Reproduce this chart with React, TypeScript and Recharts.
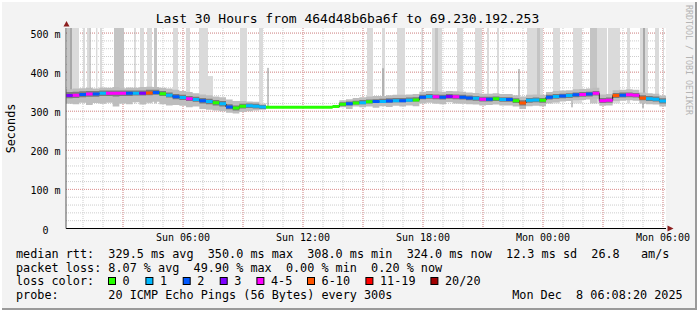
import React from 'react';
import {
  ComposedChart,
  Area,
  Line,
  XAxis,
  YAxis,
  CartesianGrid,
  ReferenceArea,
  ReferenceLine,
} from 'recharts';

// ---------- data ----------
const startHour = 0.15; // hours after Sun 00:00
const stepHours = 1 / 3;

const median = [
  340, 341, 343, 344, 344, 346, 346, 346, 346, 346, 346, 346, 347, 348, 345, 341,
  337, 335, 332, 330, 327, 325, 322, 319, 311, 308, 313, 314, 313, 311,
  310, 310, 310, 310, 310, 310, 310, 310, 310, 310, 312,
  318, 319, 321, 322, 324, 325, 325, 326, 327, 327, 328, 329, 336, 338, 337, 336, 338, 337, 336,
  334, 333, 331, 331, 332, 330, 330, 327, 321, 328, 329, 328, 336, 338, 339, 340, 342, 343, 344, 346,
  327, 328, 340, 341, 342, 341, 334, 332, 331, 326,
];

const lossCode = [
  3, 4, 2, 4, 2, 1, 4, 4, 4, 2, 1, 3, 5, 2, 0, 1,
  2, 1, 4, 1, 2, 1, 0, 1, 2, 0, 0, 1, 1, 1,
  0, 0, 0, 0, 0, 0, 0, 0, 0, 0, 0,
  0, 2, 0, 1, 0, 2, 1, 2, 1, 2, 1, 0, 2, 1, 4, 2, 3, 4, 2,
  2, 1, 4, 2, 0, 1, 2, 0, 5, 1, 1, 0, 2, 1, 2, 1, 2, 4, 2, 4,
  4, 4, 5, 2, 4, 4, 5, 1, 1, 1,
];

const outerLo = [
  320, 318, 322, 316, 321, 319, 322, 312, 320, 318, 323, 317, 322, 324, 318, 315,
  316, 314, 310, 312, 306, 304, 302, 300, 296, 294, 298, 300, 302, 304,
  308, 308, 308, 308, 308, 308, 308, 308, 308, 308, 309,
  310, 306, 312, 310, 312, 309, 313, 311, 314, 312, 315, 313, 320, 322, 320, 318, 323, 320, 319,
  318, 317, 315, 316, 317, 315, 315, 312, 306, 313, 314, 313, 320, 323, 325, 326, 328, 329, 330, 332,
  314, 315, 326, 327, 328, 327, 320, 318, 317, 312,
];
const outerHi = [
  356, 358, 359, 360, 358, 361, 360, 362, 359, 361, 360, 362, 363, 362, 360, 358,
  355, 352, 349, 346, 343, 341, 338, 336, 330, 326, 326, 325, 324, 320,
  312, 312, 312, 312, 312, 312, 312, 312, 312, 312, 316,
  328, 331, 334, 336, 338, 339, 339, 341, 342, 342, 343, 344, 350, 352, 351, 350, 352, 351, 350,
  348, 347, 345, 345, 346, 344, 344, 341, 338, 342, 343, 342, 349, 352, 353, 354, 356, 357, 358, 360,
  343, 344, 354, 355, 356, 355, 348, 346, 345, 340,
];
const coreLo = [
  333, 334, 336, 337, 337, 339, 339, 338, 339, 339, 340, 340, 341, 342, 339, 335,
  331, 329, 326, 324, 320, 318, 315, 312, 305, 302, 307, 308, 307, 306,
  309, 309, 309, 309, 309, 309, 309, 309, 309, 309, 310,
  313, 315, 317, 318, 320, 321, 321, 322, 323, 323, 324, 325, 331, 332, 331, 330, 332, 331, 330,
  328, 327, 325, 325, 326, 324, 324, 321, 315, 322, 323, 322, 330, 332, 333, 334, 336, 337, 338, 340,
  321, 322, 334, 335, 336, 335, 328, 326, 325, 320,
];
const coreHi = [
  349, 350, 351, 352, 352, 353, 353, 353, 353, 353, 353, 353, 355, 355, 352, 348,
  344, 342, 339, 337, 334, 332, 329, 326, 318, 315, 319, 320, 319, 316,
  311, 311, 311, 311, 311, 311, 311, 311, 311, 311, 314,
  323, 325, 327, 329, 330, 331, 332, 333, 334, 334, 335, 336, 342, 344, 343, 342, 344, 343, 342,
  340, 339, 337, 337, 338, 336, 336, 333, 328, 334, 335, 334, 342, 344, 345, 346, 348, 349, 350, 352,
  334, 335, 347, 348, 348, 347, 341, 339, 338, 333,
];

// outlier smoke columns: [start hour, end hour, top ms, density level 1..3]
const outliers: [number, number, number, number][] = [
  [0.2, 0.35, 513, 2], [0.35, 0.45, 513, 3], [0.45, 0.8, 513, 1], [1.0, 1.1, 513, 1],
  [1.2, 1.33, 513, 1], [1.33, 1.38, 513, 3], [1.65, 1.72, 513, 1], [1.85, 1.95, 513, 1],
  [2.55, 3.05, 513, 2], [3.58, 3.62, 513, 3], [3.85, 4.05, 513, 1], [4.2, 4.45, 513, 1],
  [4.55, 4.7, 513, 2], [5.5, 5.75, 513, 1], [6.15, 6.35, 513, 1], [6.8, 7.25, 513, 1],
  [7.25, 7.5, 390, 1], [8.85, 9.2, 513, 1], [9.8, 10.0, 513, 1],
  [15.2, 15.5, 513, 1], [15.95, 16.1, 513, 1], [16.7, 17.1, 513, 1], [17.93, 17.98, 513, 2],
  [18.45, 18.95, 513, 1], [18.6, 18.75, 513, 2], [19.7, 20.0, 513, 1], [20.6, 20.95, 513, 1],
  [21.2, 21.3, 513, 1], [21.7, 21.8, 513, 1], [23.2, 24.0, 513, 1], [23.7, 23.85, 513, 2],
  [24.5, 24.85, 513, 1], [25.5, 25.95, 513, 1], [26.35, 26.7, 513, 2], [26.7, 27.2, 513, 1],
  [27.25, 27.85, 513, 1], [28.2, 28.35, 513, 1], [28.85, 29.25, 513, 1], [29.0, 29.1, 513, 3],
  [29.6, 29.8, 513, 1], [30.0, 30.05, 513, 1],
];

// single ping spikes: [hour, low ms, high ms]
const spikes: [number, number, number][] = [
  [10.25, 312, 411], [16.0, 330, 410], [22.8, 322, 408], [25.45, 310, 330], [29.0, 308, 330],
];

const lossLabels = ['0', '1', '2', '3', '4-5', '6-10', '11-19', '20/20'];
const lossColors = ['#26ff00', '#00b8ff', '#0059ff', '#7e00ff', '#ff00ff', '#ff5500', '#ff0000', '#a10000'];

const xTicks = [6, 12, 18, 24, 30];
const xTickLabels = ['Sun 06:00', 'Sun 12:00', 'Sun 18:00', 'Mon 00:00', 'Mon 06:00'];
const yTicks = [0, 100, 200, 300, 400, 500];
const yTickLabels = ['0', '100 m', '200 m', '300 m', '400 m', '500 m'];

const statsLine1 = 'median rtt:  329.5 ms avg  350.0 ms max  308.0 ms min  324.0 ms now  12.3 ms sd  26.8   am/s';
const statsLine2 = 'packet loss: 8.07 % avg  49.90 % max  0.00 % min  0.20 % now';
const statsLine3 = 'loss color:';
const statsLine4 = 'probe:       20 ICMP Echo Pings (56 Bytes) every 300s';
const stampText = 'Mon Dec  8 06:08:20 2025';
const titleText = 'Last 30 Hours from 464d48b6ba6f to 69.230.192.253';

// ---------- derived tables ----------
const table = median.map((m, i) => ({
  t: startHour + i * stepHours,
  outer: [outerLo[i], outerHi[i]],
  core: [coreLo[i], coreHi[i]],
  median: m,
}));
{
  const n = median.length - 1;
  table.push({
    t: startHour + median.length * stepHours,
    outer: [outerLo[n], outerHi[n]],
    core: [coreLo[n], coreHi[n]],
    median: median[n],
  });
}

function colorSegments(code: number) {
  const pts: { t: number; v: number | null }[] = [];
  median.forEach((m, i) => {
    if (lossCode[i] !== code) return;
    const a = startHour + i * stepHours;
    const b = startHour + (i + 1) * stepHours;
    pts.push({ t: a, v: m }, { t: b, v: m }, { t: b, v: null });
  });
  return pts;
}

const minorX = Array.from({ length: 30 }, (_, i) => i + 1);
const majorX = Array.from({ length: 10 }, (_, i) => (i + 1) * 3);
const minorY = Array.from({ length: 25 }, (_, i) => (i + 1) * 20);
const majorY = [100, 200, 300, 400, 500];

// ---------- styles ----------
const FONT = '"DejaVu Sans Mono", monospace';
const densityFill = ['#ffffff', '#dadada', '#c4c4c4', '#a8a8a8'];
const keepSpaces = (s: string) => s.replace(/ /g, '\u00a0');

function XTick(props: any) {
  const { x, y, payload } = props;
  const i = xTicks.indexOf(payload.value);
  return (
    <text x={x} y={y + 12.2} textAnchor="middle" fontFamily={FONT} fontSize={10} fill="#000">
      {xTickLabels[i]}
    </text>
  );
}

function YTick(props: any) {
  const { x, y, payload } = props;
  const i = yTicks.indexOf(payload.value);
  const pad = payload.value === 0 ? 12 : 0;
  return (
    <text x={x - 5.5 - pad} y={y + 5} textAnchor="end" fontFamily={FONT} fontSize={10} fill="#000">
      {keepSpaces(yTickLabels[i])}
    </text>
  );
}

const legendBoxX = [108.3, 145.7, 183, 220, 256.7, 307.3, 365.7, 430.7];

export default function App() {
  return (
    <div
      style={{
        position: 'absolute',
        left: 0,
        top: 0,
        width: 697,
        height: 310,
        background: '#f3f3f3',
        boxShadow: 'inset 2px 2px 0 #ffffff, inset -2px -2px 0 #9a9a9a',
        overflow: 'hidden',
      }}
    >
      <div style={{ position: 'absolute', left: 0, top: 0 }}>
        <ComposedChart
          width={697}
          height={310}
          data={table}
          margin={{ top: 28, right: 31, bottom: 0, left: 0 }}
        >
          <CartesianGrid
            fill="#ffffff"
            stroke="#cdcdcd"
            strokeDasharray="1 1"
            horizontalValues={minorY}
            verticalValues={minorX}
          />
          <CartesianGrid
            stroke="#e39595"
            strokeDasharray="1 1"
            horizontalValues={majorY}
            verticalValues={majorX}
          />
          <XAxis
            type="number"
            dataKey="t"
            domain={[0.15, 30.15]}
            allowDataOverflow
            ticks={xTicks}
            interval={0}
            tick={<XTick />}
            tickLine={false}
            tickSize={0}
            tickMargin={0}
            axisLine={{ stroke: '#000', strokeWidth: 1 }}
            height={81.5}
          />
          <YAxis
            type="number"
            domain={[0, 513]}
            allowDataOverflow
            ticks={yTicks}
            interval={0}
            tick={<YTick />}
            tickLine={false}
            tickSize={0}
            tickMargin={0}
            axisLine={{ stroke: '#555', strokeWidth: 1 }}
            width={66}
          />
          {outliers.map(([a, b, top, d], i) => (
            <ReferenceArea
              key={'o' + i}
              x1={a}
              x2={b}
              y1={320}
              y2={top}
              fill={densityFill[d]}
              fillOpacity={1}
              stroke="none"
              zIndex={50}
            />
          ))}
          {spikes.map(([h, lo, hi], i) => (
            <ReferenceLine
              key={'s' + i}
              segment={[{ x: h, y: lo }, { x: h, y: hi }]}
              stroke="#8a8a8a"
              strokeWidth={1}
              zIndex={60}
            />
          ))}
          <Area
            type="stepAfter"
            dataKey="outer"
            stroke="none"
            fill="#bdbdbd"
            fillOpacity={1}
            isAnimationActive={false}
            dot={false}
            activeDot={false}
          />
          <Area
            type="stepAfter"
            dataKey="core"
            stroke="none"
            fill="#7a7a7a"
            fillOpacity={1}
            isAnimationActive={false}
            dot={false}
            activeDot={false}
          />
          <Line
            type="stepAfter"
            dataKey="median"
            stroke="#222"
            strokeWidth={1}
            dot={false}
            activeDot={false}
            isAnimationActive={false}
          />
          {lossColors.map((c, code) => (
            <Line
              key={'m' + code}
              data={colorSegments(code)}
              type="linear"
              dataKey="v"
              stroke={c}
              strokeWidth={3}
              strokeLinecap="butt"
              dot={false}
              activeDot={false}
              connectNulls={false}
              isAnimationActive={false}
            />
          ))}
        </ComposedChart>
      </div>
      <svg
        width={697}
        height={310}
        style={{ position: 'absolute', left: 0, top: 0, pointerEvents: 'none' }}
      >
        <text x={347.5} y={23.3} textAnchor="middle" fontFamily={FONT} fontSize={13} fill="#000">
          {titleText}
        </text>
        <text
          transform="translate(15,128.5) rotate(-90)"
          textAnchor="middle"
          fontFamily={FONT}
          fontSize={11.8}
          fill="#000"
        >
          Seconds
        </text>
        <text
          transform="translate(685.5,60) rotate(90)"
          textAnchor="middle"
          fontFamily={FONT}
          fontSize={8.3}
          fill="#b4b4b4"
        >
          RRDTOOL / TOBI OETIKER
        </text>
        <polygon points="63.5,26.5 69.5,26.5 66.5,21" fill="#8b1d1d" />
        <polygon points="667.5,225.5 667.5,231.5 673.5,228.5" fill="#8b1d1d" />
        <g fontFamily={FONT} fontSize={11.8} fill="#000">
          <text x={16} y={258}>{keepSpaces(statsLine1)}</text>
          <text x={16} y={271.8}>{keepSpaces(statsLine2)}</text>
          <text x={16} y={285.3}>{keepSpaces(statsLine3)}</text>
          <text x={16} y={299.3}>{keepSpaces(statsLine4)}</text>
          <text x={512.2} y={299.3}>{keepSpaces(stampText)}</text>
          {lossLabels.map((lab, i) => (
            <g key={'lg' + i}>
              <rect
                x={legendBoxX[i] + 0.2}
                y={277.5}
                width={7}
                height={7}
                fill={lossColors[i]}
                stroke="#000"
                strokeWidth={1}
              />
              <text x={legendBoxX[i] + 14.3} y={285.3}>{lab}</text>
            </g>
          ))}
        </g>
      </svg>
    </div>
  );
}
